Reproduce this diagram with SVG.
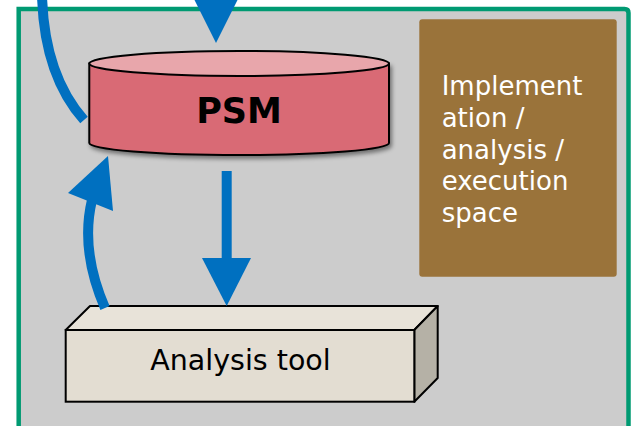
<svg xmlns="http://www.w3.org/2000/svg" width="636" height="426" viewBox="0 0 636 426">
<defs>
<style>
.conn{fill:none;stroke:#0070c0;stroke-width:10}
.head{fill:#0070c0}
.lbl{font-family:"DejaVu Sans","Liberation Sans",sans-serif}
</style>
<filter id="sh" x="-10%" y="-20%" width="130%" height="150%">
<feDropShadow dx="2" dy="3" stdDeviation="2" flood-color="#000" flood-opacity="0.45"/>
</filter>
</defs>
<rect width="636" height="426" fill="#ffffff"/>
<g id="frame">
<path d="M18.7 440 V9 H624.5 Q628.5 9 628.5 13 V440" fill="#cccccc" stroke="#009a72" stroke-width="4.5"/>
</g>
<g id="space">
<rect x="419.3" y="19.3" width="197.4" height="257.4" rx="3" fill="#9a733a"/>
<text class="lbl" font-size="26" fill="#ffffff" x="441.7">
<tspan x="441.7" y="95">Implement</tspan>
<tspan x="441.7" y="127">ation /</tspan>
<tspan x="441.7" y="158.5">analysis /</tspan>
<tspan x="441.7" y="190">execution</tspan>
<tspan x="441.7" y="221.5">space</tspan>
</text>
</g>
<g id="psm">
<g filter="url(#sh)">
<path d="M89.3 63.5 V143 A149.7 12 0 0 0 389 143 V63.5 Z" fill="#d96b75" stroke="#000" stroke-width="2"/>
</g>
<ellipse cx="239.15" cy="63.5" rx="149.85" ry="12.5" fill="#e8a6ab" stroke="#000" stroke-width="2"/>
<text class="lbl" x="239" y="123" font-size="35" font-weight="bold" text-anchor="middle" fill="#000">PSM</text>
</g>
<g id="analysis-tool">
<polygon points="65.7,330 90,306 437.7,306 414.3,330" fill="#e8e3d9" stroke="#000" stroke-width="2" stroke-linejoin="round"/>
<polygon points="414.3,330 437.7,306 437.7,378 414.3,401.7" fill="#b5b1a6" stroke="#000" stroke-width="2" stroke-linejoin="round"/>
<rect x="65.7" y="330" width="348.6" height="71.7" fill="#e3ddd2" stroke="#000" stroke-width="2"/>
<text class="lbl" x="240.5" y="370" font-size="28.5" text-anchor="middle" fill="#000">Analysis tool</text>
</g>
<g id="connectors">
<path class="conn" d="M42 -5 Q44 75 84 120"/>
<polygon class="head" points="192,-5 240,-5 216,43"/>
<path class="conn" d="M226.7 171 V260"/>
<polygon class="head" points="202,258 251,258 226.7,306"/>
<path class="conn" d="M105 308 Q80 250 92 200"/>
<polygon class="head" points="68,193 113,211 108,156"/>
</g>
</svg>
